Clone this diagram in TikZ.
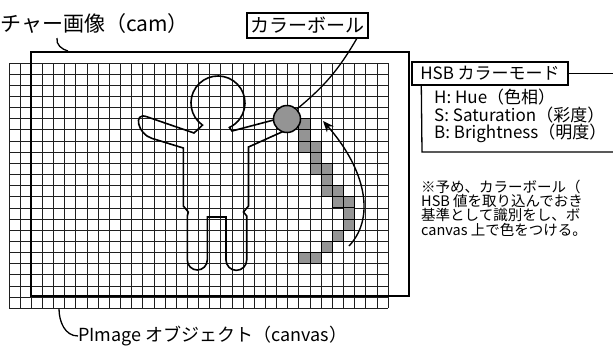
\documentclass[tikz,border=0pt]{standalone}
\usepackage{fontspec}
\setmainfont{Noto Sans CJK JP}
\usetikzlibrary{arrows.meta}

\begin{document}
\begin{tikzpicture}[x=1pt,y=1pt,
    gridline/.style={black!88,line width=0.85pt},
    outline/.style={line width=1.6pt},
    pix/.style={draw,fill=black!42,line width=1pt},
    tag/.style={draw,line width=1.4pt,inner sep=0pt}]

    \useasboundingbox (0,0) rectangle (613,-349);
    \clip (0,0) rectangle (613,-349);

    \def\cs{11.15} % マス目の大きさ
    % canvas のマス目 34 x 22
    \node[inner sep=0pt,anchor=north west,minimum width=379.1pt,minimum height=245.3pt] (canvas) at (9,-63) {};
    \foreach \i in {0,...,34}
      \draw[gridline] (9+\i*\cs,-63) -- (9+\i*\cs,-308.3);
    \foreach \j in {0,...,22}
      \draw[gridline] (9,-63-\j*\cs) -- (388.1,-63-\j*\cs);

    % ボールの軌跡
    \foreach \c/\r in {26/5,26/6,26/7,27/7,27/8,27/9,28/9,28/10,28/11,29/11,
                       29/12,30/12,30/13,30/14,29/15,28/16,26/17,27/17}
      \draw[pix] (9+\c*\cs,-63-\r*\cs) rectangle ++(\cs,-\cs);

    % cam
    \node[draw,line width=1.5pt,inner sep=0pt,anchor=north west,
          minimum width=378pt,minimum height=244pt] (cam) at (30,-51) {};

    % 人物
    \draw[outline] (194,-133) -- (202.5,-125.1)
      arc[start angle=235,end angle=-65,radius=27]
      -- (232,-131) -- (285,-117) -- (293,-127) -- (248.5,-147)
      -- (248.5,-206) -- (243.5,-212) -- (246.7,-216) -- (246.7,-260)
      arc[start angle=0,end angle=-180,radius=10.35]
      -- (226,-217) -- (207.3,-217) -- (207.3,-260)
      arc[start angle=0,end angle=-180,radius=10]
      -- (187.3,-216) -- (188.3,-212) -- (183.3,-206) -- (183.3,-148)
      -- (151.7,-138.3) to[out=163,in=160,looseness=1.7] (146.7,-116.7)
      -- cycle;

    \node[circle,draw,fill=black!42,line width=1.5pt,minimum size=27pt,inner sep=0pt] (ball) at (287,-119) {};

    \coordinate (swingA) at (349,-246);
    \coordinate (swingB) at (323,-121);
    \draw[-{Stealth[length=11pt,width=9pt]},line width=1.4pt]
      (swingA) .. controls (378,-215) and (362,-165) .. (swingB);

    % ラベル
    \node[tag,minimum width=121pt,minimum height=25pt,font=\fontsize{19}{19}\selectfont] (ballLbl) at (307.5,-25.5) {カラーボール};
    \draw[line width=1.3pt] (ball.45) to[bend right=10] ([xshift=-12pt]ballLbl.south east);

    \node[anchor=west,inner sep=0pt,font=\fontsize{21}{21}\selectfont] (camLbl) at (0,-24) {チャー画像（cam）};
    \coordinate (camTail) at (57,-38);
    \draw[line width=1.3pt] (camTail) to[out=-100,in=165] ([xshift=38pt]cam.north west);

    \node[anchor=west,inner sep=0pt,font=\fontsize{18}{18}\selectfont] (canvasLbl) at (78,-336) {PImage オブジェクト（canvas）};
    \draw[line width=1.3pt] ([xshift=50pt]canvas.south west) to[out=-90,in=180] (canvasLbl.west);

    % HSB の説明
    \node[tag,minimum width=156pt,minimum height=23pt,font=\fontsize{17}{17}\selectfont] (hsb) at (490,-73.5) {HSB カラーモード};
    \draw[line width=1.3pt] (hsb.east) -- (620,-73.5);
    \draw[line width=1.3pt] ([xshift=10pt]hsb.south west) -- (422,-152) -- (620,-152);
    \node[anchor=north west,inner sep=0pt,align=left,font=\fontsize{17}{17.5}\selectfont] (hsbList) at (434,-89)
      {H: Hue（色相）\\S: Saturation（彩度）\\B: Brightness（明度）};

    \node[anchor=north west,inner sep=0pt,align=left,font=\fontsize{14.5}{14.3}\selectfont] (note) at (421,-179.5)
      {※予め、カラーボール（\\HSB 値を取り込んでおき\\基準として識別をし、ボ\\canvas 上で色をつける。};

\end{tikzpicture}
\end{document}
